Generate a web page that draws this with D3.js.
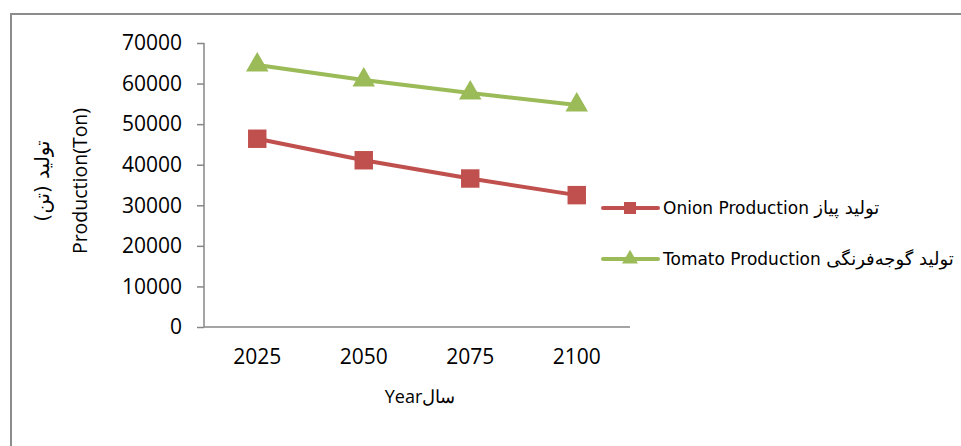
<!DOCTYPE html>
<html>
<head>
<meta charset="utf-8">
<script src="https://cdn.jsdelivr.net/npm/d3@7"></script>
<style>
  body { margin: 0; background: #fff; }
  text { fill: #000; }
</style>
</head>
<body>
<script>
var years = ['2025', '2050', '2075', '2100'];
var onion = [46400, 41100, 36600, 32500];
var tomato = [64600, 60900, 57700, 54700];
var yTicks = [0, 10000, 20000, 30000, 40000, 50000, 60000, 70000];
var seriesNames = ['Onion Production', 'Tomato Production'];
var seriesNamesFa = ['تولید پیاز', 'تولید گوجه‌فرنگی'];
var seriesColors = ['#C0504D', '#9BBB59'];

var W = 961, H = 446;
var svg = d3.select('body').append('svg').attr('width', W).attr('height', H);

// chart frame (right and bottom edges fall outside the picture)
svg.append('path')
    .attr('d', 'M11,460V14H975')
    .attr('fill', 'none')
    .attr('stroke', '#8c8c8c')
    .attr('stroke-width', 2);

var x = d3.scaleBand().domain(years).range([204, 630]);
var y = d3.scaleLinear().domain([0, 70000]).range([327, 43]);

var yAxis = svg.append('g').attr('transform', 'translate(204,0)')
    .call(d3.axisLeft(y).tickValues(yTicks).tickSize(7).tickPadding(15).tickFormat(d3.format('d')));
var xAxis = svg.append('g').attr('transform', 'translate(0,327)')
    .call(d3.axisBottom(x).tickSize(0).tickPadding(22));

[yAxis, xAxis].forEach(function(a){
    a.select('.domain').attr('stroke', '#868686').attr('stroke-width', 1.5);
    a.selectAll('line').attr('stroke', '#868686').attr('stroke-width', 1.5);
    a.selectAll('text').attr('font-family', 'Open Sans').attr('font-size', 21).attr('fill', '#000');
});
yAxis.select('.domain').attr('d', 'M0,' + y(70000) + 'V' + y(0));
xAxis.select('.domain').attr('d', 'M204,0H630');

// axis titles
svg.append('text')
    .attr('transform', 'translate(87,181) rotate(-90)')
    .attr('text-anchor', 'middle')
    .attr('font-family', 'Open Sans').attr('font-size', 19.5)
    .text('Production(Ton)');
svg.append('text')
    .attr('transform', 'translate(49,181) rotate(-90)')
    .attr('text-anchor', 'middle')
    .attr('font-family', 'DejaVu Sans').attr('font-size', 20)
    .text('تولید (تن)');
svg.append('text')
    .attr('x', 420).attr('y', 403)
    .attr('text-anchor', 'middle')
    .attr('font-family', 'Open Sans').attr('font-size', 18)
    .text('Yearسال');

var series = [onion, tomato];
var line = d3.line()
    .x(function(d, i){ return x(years[i]) + x.bandwidth() / 2; })
    .y(function(d){ return y(d); });

var square = d3.symbol().type(d3.symbolSquare);
var triangle = d3.symbol().type(d3.symbolTriangle);

series.forEach(function(s, k){
    svg.append('path')
        .attr('d', line(s))
        .attr('fill', 'none')
        .attr('stroke', seriesColors[k])
        .attr('stroke-width', 4);
    svg.selectAll('.m' + k).data(s).enter().append('path')
        .attr('class', 'm' + k)
        .attr('transform', function(d, i){
            return 'translate(' + (x(years[i]) + x.bandwidth() / 2) + ',' + y(d) + ')';
        })
        .attr('d', k === 0 ? square.size(340)() : triangle.size(220)())
        .attr('fill', seriesColors[k]);
});

// legend
var legendY = [208, 259];
seriesNames.forEach(function(name, k){
    var g = svg.append('g').attr('transform', 'translate(0,' + legendY[k] + ')');
    g.append('line').attr('x1', 603).attr('x2', 658)
        .attr('stroke', seriesColors[k]).attr('stroke-width', 4).attr('stroke-linecap', 'round');
    g.append('path')
        .attr('transform', 'translate(630,0)')
        .attr('d', k === 0 ? square.size(144)() : triangle.size(110)())
        .attr('fill', seriesColors[k]);
    var t = g.append('text')
        .attr('x', 663).attr('y', 6)
        .attr('font-family', 'DejaVu Sans');
    t.append('tspan').attr('font-size', 17).text(name + ' ');
    t.append('tspan').attr('font-size', 18).text(seriesNamesFa[k]);
});
</script>
</body>
</html>
